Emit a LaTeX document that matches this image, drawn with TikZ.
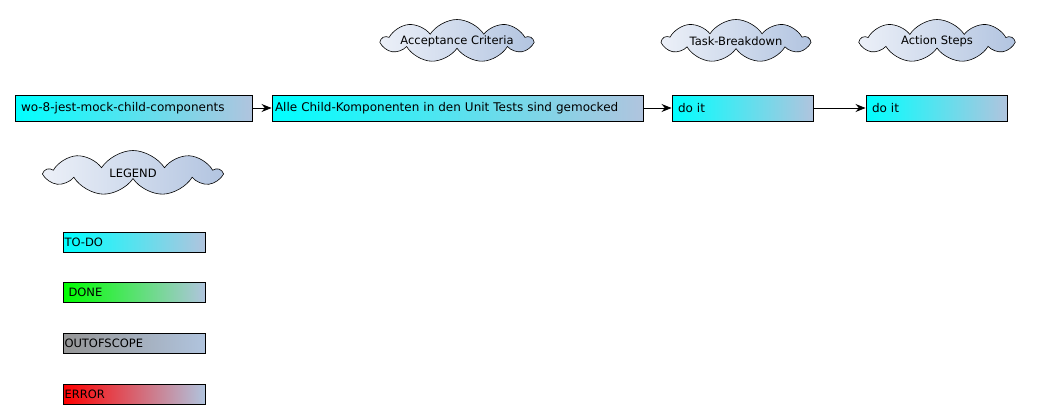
\documentclass[tikz,border=0pt]{standalone}
\usepackage{fontspec}
\setmainfont{DejaVu Sans}
\usetikzlibrary{shapes.symbols, arrows.meta}

\definecolor{steel}{RGB}{176,196,222}
\definecolor{cloudlight}{RGB}{236,240,248}
\definecolor{cloudblue}{RGB}{178,196,224}
\definecolor{outgray}{RGB}{150,150,150}

\tikzset{
	card/.style = {draw, line width = 0.9pt, rectangle, minimum height = 26pt,
		inner xsep = 6pt, align = left, left color = cyan, right color = steel,
		font = \fontsize{12}{14}\selectfont},
	legendcard/.style = {draw, line width = 0.9pt, rectangle, minimum height = 20pt,
		inner xsep = 1.5pt, text width = 139pt, align = left, right color = steel,
		font = \fontsize{11.5}{13}\selectfont},
	bubble/.style = {cloud, cloud puffs = 9, cloud puff arc = 115, cloud ignores aspect,
		draw, line width = 0.6pt, left color = cloudlight, right color = cloudblue,
		inner sep = 0pt, minimum height = 43pt,
		label = {[font = \fontsize{11.5}{13}\selectfont]center:#1}}
}

\begin{document}
\begin{tikzpicture}[x = 1pt, y = -1pt, > = {Stealth[length = 10pt, width = 8pt]}, line width = 0.9pt]

	\useasboundingbox (0, 0) rectangle (1041, 420);

	% Headings

	\node [bubble = {Acceptance Criteria}, minimum width = 150pt] (criteria) at (457, 41) {};
	\node [bubble = {Task-Breakdown}, minimum width = 146pt] (breakdown) at (736, 41) {};
	\node [bubble = {Action Steps}, minimum width = 152pt] (steps) at (937, 41) {};

	% Work chain

	\node [card, text width = 225pt] (story) at (133.5, 108) {wo-8-jest-mock-child-components};
	\node [card, text width = 365pt, inner xsep = 3pt] (accept) at (457.5, 108) {Alle Child-Komponenten in den Unit Tests sind gemocked};
	\node [card, text width = 129pt] (task) at (742.5, 108) {do it};
	\node [card, text width = 129pt] (action) at (936.5, 108) {do it};

	\draw [->] (story) -- (accept);
	\draw [->] (accept) -- (task);
	\draw [->] (task) -- (action);

	% Legend

	\node [bubble = {LEGEND}, minimum width = 175pt, minimum height = 45pt] (legend) at (133, 173) {};

	\foreach \name/\col/\y/\txt in {todo/cyan/242/TO-DO, done/green/292/\hspace{4pt}DONE,
		outofscope/outgray/343/OUTOFSCOPE, error/red/394/ERROR}
		\node [legendcard, left color = \col] (\name) at (134, \y) {\txt};

\end{tikzpicture}
\end{document}
